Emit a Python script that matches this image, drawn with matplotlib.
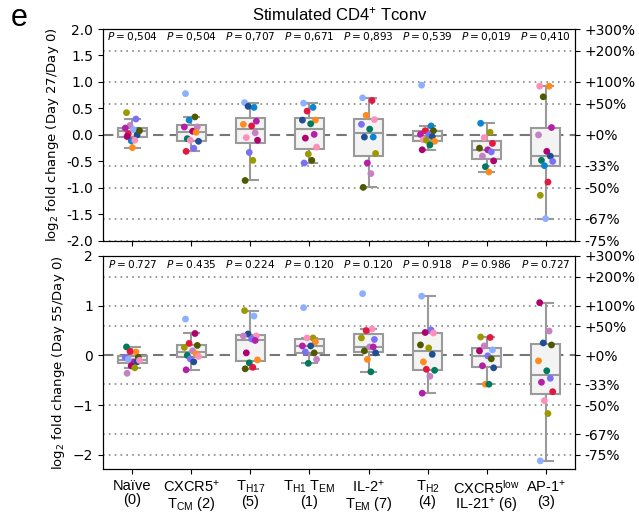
import numpy as np
import matplotlib.pyplot as plt

plt.rcParams['mathtext.fontset'] = 'dejavusans'
plt.rcParams['mathtext.rm'] = 'Liberation Sans'
plt.rcParams['mathtext.it'] = 'Liberation Sans:italic'

groups = ['Naïve\n(0)', 'CXCR5$^{+}$\nT$_{\\mathrm{CM}}$ (2)', 'T$_{\\mathrm{H17}}$\n(5)',
          'T$_{\\mathrm{H1}}$ T$_{\\mathrm{EM}}$\n(1)', 'IL-2$^{+}$\nT$_{\\mathrm{EM}}$ (7)',
          'T$_{\\mathrm{H2}}$\n(4)', 'CXCR5$^{\\mathrm{low}}$\nIL-21$^{+}$ (6)', 'AP-1$^{+}$\n(3)']

p27 = ['0,504', '0,504', '0,707', '0,671', '0,893', '0,539', '0,019', '0,410']
p55 = ['0.727', '0.435', '0.224', '0.120', '0.120', '0.918', '0.986', '0.727']

donor_colors = {'olive': '#9a9a00', 'slate': '#7b70f5', 'mauve': '#c383c3', 'dgreen': '#007a5e',
                'lblue': '#8cb0ff', 'blue': '#0a85d1', 'navy': '#1f4f91', 'red': '#e3173f',
                'dolive': '#4f5a00', 'orange': '#ff8b1f', 'magenta': '#b51fa8',
                'dmagenta': '#b0006e', 'pink': '#ff8fba'}

# Day 27 / Day 0
d27_vals = [
    [0.42, 0.30, 0.18, 0.08, 0.13, 0.10, 0.00, 0.02, 0.08, -0.11, -0.10, -0.03, -0.24],
    [0.78, 0.34, 0.28, 0.15, 0.15, 0.07, 0.05, -0.07, -0.12, -0.10, -0.25, -0.31],
    [0.61, 0.52, 0.54, 0.26, 0.20, 0.17, 0.04, -0.05, -0.10, -0.33, -0.48, -0.86],
    [0.60, 0.52, 0.45, 0.28, 0.28, 0.21, 0.01, -0.06, -0.23, -0.36, -0.48, -0.53],
    [0.70, 0.65, 0.37, 0.29, 0.20, 0.11, -0.04, -0.04, -0.35, -0.53, -0.73, -0.99],
    [0.94, 0.17, 0.08, 0.08, 0.01, 0.00, -0.03, -0.09, -0.12, -0.10, -0.19, -0.28],
    [0.22, 0.05, -0.05, -0.16, -0.25, -0.28, -0.32, -0.40, -0.49, -0.60, -0.70],
    [0.92, 0.92, 0.72, 0.14, 0.00, -0.31, -0.40, -0.48, -0.50, -0.58, -0.89, -1.14, -1.58],
]
d27_cols = [
    ['olive', 'slate', 'mauve', 'dgreen', 'magenta', 'lblue', 'navy', 'red', 'dolive', 'blue', 'pink', 'dmagenta', 'orange'],
    ['lblue', 'dolive', 'blue', 'mauve', 'magenta', 'dmagenta', 'orange', 'dgreen', 'navy', 'pink', 'slate', 'red'],
    ['lblue', 'blue', 'navy', 'magenta', 'orange', 'red', 'mauve', 'pink', 'dmagenta', 'slate', 'olive', 'dolive'],
    ['lblue', 'blue', 'red', 'orange', 'navy', 'dgreen', 'magenta', 'dmagenta', 'pink', 'olive', 'dolive', 'slate'],
    ['lblue', 'red', 'orange', 'pink', 'slate', 'dgreen', 'blue', 'navy', 'olive', 'magenta', 'mauve', 'dolive'],
    ['lblue', 'blue', 'red', 'dolive', 'magenta', 'slate', 'navy', 'pink', 'orange', 'olive', 'dgreen', 'dmagenta'],
    ['blue', 'olive', 'pink', 'red', 'dolive', 'magenta', 'slate', 'mauve', 'dmagenta', 'dgreen', 'orange'],
    ['pink', 'orange', 'dolive', 'magenta', 'mauve', 'dmagenta', 'navy', 'dgreen', 'slate', 'blue', 'red', 'olive', 'lblue'],
]

# Day 55 / Day 0
d55_vals = [
    [0.17, 0.07, 0.08, -0.04, -0.04, -0.13, -0.13, -0.08, -0.10, -0.21, -0.25, -0.36],
    [0.73, 0.44, 0.24, 0.20, 0.16, 0.09, 0.03, 0.00, -0.02, -0.07, -0.13, -0.29],
    [0.90, 0.79, 0.43, 0.39, 0.39, 0.33, 0.30, 0.05, -0.09, -0.15, -0.24, -0.27],
    [0.96, 0.35, 0.35, 0.27, 0.19, 0.19, 0.05, 0.07, -0.08, -0.16],
    [1.24, 0.53, 0.50, 0.32, 0.35, 0.17, 0.17, 0.09, 0.05, -0.08, -0.33],
    [1.19, 0.51, 0.46, 0.45, 0.21, 0.15, 0.02, -0.13, -0.30, -0.28, -0.42, -0.76],
    [0.37, 0.36, 0.19, 0.11, 0.09, -0.01, -0.07, -0.21, -0.25, -0.58, -0.58],
    [1.06, 0.49, 0.25, 0.21, -0.11, -0.31, -0.46, -0.54, -0.73, -0.91, -1.17, -2.12],
]
d55_cols = [
    ['dgreen', 'orange', 'red', 'dolive', 'slate', 'magenta', 'navy', 'lblue', 'pink', 'dmagenta', 'olive', 'mauve'],
    ['lblue', 'dmagenta', 'red', 'dolive', 'olive', 'mauve', 'orange', 'dgreen', 'pink', 'slate', 'navy', 'magenta'],
    ['olive', 'lblue', 'navy', 'pink', 'mauve', 'slate', 'magenta', 'dmagenta', 'orange', 'dgreen', 'red', 'dolive'],
    ['lblue', 'olive', 'pink', 'orange', 'magenta', 'navy', 'dolive', 'slate', 'mauve', 'dgreen'],
    ['lblue', 'pink', 'red', 'slate', 'olive', 'mauve', 'magenta', 'dolive', 'navy', 'orange', 'dgreen'],
    ['lblue', 'slate', 'dmagenta', 'pink', 'dolive', 'olive', 'navy', 'orange', 'dgreen', 'red', 'mauve', 'magenta'],
    ['olive', 'red', 'mauve', 'lblue', 'dmagenta', 'slate', 'dolive', 'magenta', 'navy', 'orange', 'dgreen'],
    ['dmagenta', 'mauve', 'navy', 'dolive', 'orange', 'dgreen', 'slate', 'magenta', 'red', 'pink', 'olive', 'lblue'],
]

pct_ticks = [2, np.log2(3), 1, np.log2(1.5), 0, np.log2(2 / 3), -1, np.log2(1 / 3), -2]
pct_labels = ['+300%', '+200%', '+100%', '+50%', '+0%', '-33%', '-50%', '-67%', '-75%']
dotted = [np.log2(3), 1, np.log2(1.5), np.log2(2 / 3), -1, np.log2(1 / 3), -2]

jitter = [-0.10, 0.06, -0.04, 0.10, -0.12, 0.02, 0.08, -0.07, 0.12, -0.02, 0.04, -0.09, 0.0]

fig = plt.figure(figsize=(6.39, 5.18), dpi=100)
ax1 = fig.add_axes([0.161, 0.535, 0.739, 0.409])
ax2 = fig.add_axes([0.161, 0.095, 0.739, 0.411])


def draw(ax, vals, cols, pvals, ylim, ptext_y):
    x = np.arange(len(vals))
    for yv in dotted:
        ax.axhline(yv, color='#888888', ls=(0, (1, 2.5)), lw=1.2, zorder=0)
    ax.axhline(0, color='#777777', ls=(0, (5, 3)), lw=1.5, zorder=1)
    gray = '#9a9a9a'
    ax.boxplot(vals, positions=x, widths=0.5, patch_artist=True, showfliers=False,
               boxprops=dict(facecolor='#f3f3f3', edgecolor=gray, lw=1.5),
               medianprops=dict(color=gray, lw=1.5),
               whiskerprops=dict(color=gray, lw=1.5),
               capprops=dict(color=gray, lw=1.5), zorder=2)
    for i, (v, c) in enumerate(zip(vals, cols)):
        xs = [i + jitter[k % len(jitter)] for k in range(len(v))]
        ax.scatter(xs, v, s=24, c=[donor_colors[k] for k in c], zorder=3, linewidths=0)
        ax.text(i, ptext_y, '$P$\u2009=\u2009' + pvals[i], ha='center', va='center', fontsize=7.6)
    ax.set_xlim(-0.5, len(vals) - 0.5)
    ax.set_ylim(*ylim)
    ax.tick_params(labelsize=10)
    axr = ax.twinx()
    axr.set_ylim(*ylim)
    axr.set_yticks(pct_ticks)
    axr.set_yticklabels(pct_labels, fontsize=10)
    return axr


draw(ax1, d27_vals, d27_cols, p27, (-2, 2), 1.85)
ax1.set_yticks(np.arange(-2, 2.01, 0.5))
ax1.set_yticklabels(['%.1f' % t for t in np.arange(-2, 2.01, 0.5)])
ax1.set_xticks(range(len(groups)))
ax1.set_xticklabels([])
ax1.set_ylabel('log$_2$ fold change (Day 27/Day 0)', fontsize=9.5)

draw(ax2, d55_vals, d55_cols, p55, (-2.28, 2), 1.83)
ax2.set_yticks([-2, -1, 0, 1, 2])
ax2.set_xticks(range(len(groups)))
ax2.set_xticklabels(groups, fontsize=10.5, family='Liberation Sans', math_fontfamily='custom',
                    linespacing=1.0)
ax2.set_ylabel('log$_2$ fold change (Day 55/Day 0)', fontsize=9.5)

fig.text(0.532, 0.972, 'Stimulated CD4$^{+}$ Tconv', ha='center', va='center', fontsize=12,
         family='Liberation Sans', math_fontfamily='custom')
fig.text(0.03, 0.965, 'e', ha='center', va='center', fontsize=22, family='Liberation Sans')

fig.savefig('out.png', dpi=100)
